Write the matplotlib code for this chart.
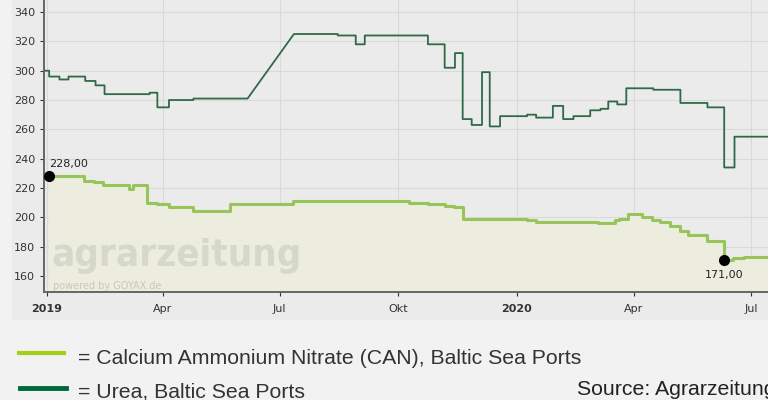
import numpy as np
import matplotlib

matplotlib.use("Agg")
import matplotlib.pyplot as plt
from matplotlib.lines import Line2D
from matplotlib.patches import Rectangle

# weekly price changes (EUR/t)
can_dates = ["2019-01-03", "2019-01-30", "2019-02-07", "2019-02-14", "2019-03-06",
             "2019-03-09", "2019-03-20", "2019-03-28", "2019-04-06", "2019-04-25",
             "2019-05-23", "2019-07-11", "2019-10-09", "2019-10-24", "2019-11-06",
             "2019-11-13", "2019-11-20", "2020-01-09", "2020-01-16", "2020-03-04",
             "2020-03-17", "2020-03-20", "2020-03-27", "2020-04-07", "2020-04-15",
             "2020-04-21", "2020-04-29", "2020-05-07", "2020-05-13", "2020-05-28",
             "2020-06-10", "2020-06-17", "2020-06-25", "2020-07-20"]
can_values = [228, 225, 224, 222, 219, 222, 210, 209, 207, 204,
              209, 211, 210, 209, 208, 207, 199, 198, 197, 196,
              198, 199, 202, 200, 198, 197, 194, 191, 188, 184,
              171, 172, 173, 173]

urea_dates = ["2018-12-31", "2019-01-03", "2019-01-11", "2019-01-18", "2019-01-31",
              "2019-02-08", "2019-02-15", "2019-03-22", "2019-03-28", "2019-04-06",
              "2019-04-25", "2019-06-06", "2019-07-12", "2019-08-15", "2019-08-29",
              "2019-09-05", "2019-10-24", "2019-11-06", "2019-11-14", "2019-11-20",
              "2019-11-27", "2019-12-05", "2019-12-11", "2019-12-19", "2020-01-09",
              "2020-01-16", "2020-01-29", "2020-02-06", "2020-02-14", "2020-02-27",
              "2020-03-06", "2020-03-12", "2020-03-19", "2020-03-26", "2020-04-16",
              "2020-05-07", "2020-05-28", "2020-06-10", "2020-06-18", "2020-07-20"]
urea_values = [300, 296, 294, 296, 293, 290, 284, 285, 275, 280,
               281, 281, 325, 324, 318, 324, 318, 302, 312, 267,
               263, 299, 262, 269, 270, 268, 276, 267, 269, 273,
               274, 279, 277, 288, 287, 278, 275, 234, 255, 255]
urea_gap = ["2019-06-06"]  # no quotes until 2019-07-12: line is joined straight

tick_dates = ["2019-01-01", "2019-04-01", "2019-07-01", "2019-10-01",
              "2020-01-01", "2020-04-01", "2020-07-01"]
tick_labels = ["2019", "Apr", "Jul", "Okt", "2020", "Apr", "Jul"]
yticks = list(range(160, 341, 20))

CAN_C = "#97c55a"
UREA_C = "#2f6a48"
PANEL = "#ebebeb"
OUTER = "#f2f2f2"
FILL = "#eceddf"

can_x = np.array(can_dates, dtype="datetime64[D]")
urea_x = np.array(urea_dates, dtype="datetime64[D]")
gap = np.array(urea_gap, dtype="datetime64[D]")

# build the urea step path; the gap segment is drawn as a straight line
ux, uy = [], []
for i in range(len(urea_x)):
    ux.append(urea_x[i]); uy.append(urea_values[i])
    if i + 1 < len(urea_x) and urea_x[i] not in gap:
        ux.append(urea_x[i + 1]); uy.append(urea_values[i])

fig = plt.figure(figsize=(7.68, 4.0), dpi=100, facecolor=OUTER)
fig.add_artist(Rectangle((12 / 768, 1 - 319 / 400), 1, 319 / 400,
                         transform=fig.transFigure, color=PANEL, zorder=-5))
ax = fig.add_axes([44 / 768, 1 - 292 / 400, 1 - 44 / 768, 292 / 400])
ax.set_facecolor(PANEL)

ax.set_ylim(149.1, 348.2)
ax.set_xlim(np.datetime64("2018-12-30"), np.datetime64("2020-07-14"))

ax.fill_between(can_x, can_values, 149.1, step="post", color=FILL, lw=0, zorder=1)
ax.step(can_x, can_values, where="post", color=CAN_C, lw=2.2, zorder=3)
ax.plot(ux, uy, color=UREA_C, lw=1.3, zorder=3)

ax.plot(can_x[0], can_values[0], "o", color="black", ms=7, zorder=5)
ax.annotate(f"{can_values[0]:.2f}".replace(".", ","), (can_x[0], can_values[0]),
            xytext=(0, 7), textcoords="offset points", fontsize=8, color="#222")
low = int(np.argmin(can_values))
ax.plot(can_x[low], can_values[low], "o", color="black", ms=7, zorder=5)
ax.annotate(f"{can_values[low]:.2f}".replace(".", ","), (can_x[low], can_values[low]),
            xytext=(0, -7), textcoords="offset points", fontsize=8, color="#222",
            ha="center", va="top")

ax.text(0.011, 0.088, "agrarzeitung", transform=ax.transAxes, fontsize=27.5,
        fontweight="bold", fontstretch="condensed", family="DejaVu Sans",
        color="#d6d8ca", zorder=2, va="baseline")
ax.text(0.012, 0.004, "powered by GOYAX.de", transform=ax.transAxes, fontsize=7,
        color="#c6c8bb", zorder=2, va="bottom")

ax.set_yticks(yticks)
ax.set_xticks(np.array(tick_dates, dtype="datetime64[D]"))
ax.set_xticklabels(tick_labels)
for lab in ax.get_xticklabels():
    if lab.get_text().isdigit():
        lab.set_fontweight("bold")
ax.tick_params(axis="both", labelsize=8, colors="#333", length=3, width=0.8)
ax.tick_params(axis="x", pad=6)
ax.grid(True, color="#d9d9d9", lw=0.8, zorder=0)
ax.set_axisbelow(True)
for s in ["top", "right"]:
    ax.spines[s].set_visible(False)
for s in ["left", "bottom"]:
    ax.spines[s].set_color("#666")
    ax.spines[s].set_linewidth(1.4)

# legend below the chart
legend_font = "Liberation Sans"
fig.add_artist(Line2D([19 / 768, 64 / 768], [1 - 353 / 400] * 2, color="#a2cf19",
                      lw=3, transform=fig.transFigure))
fig.add_artist(Line2D([20 / 768, 66 / 768], [1 - 388 / 400] * 2, color="#00693a",
                      lw=3.5, transform=fig.transFigure))
fig.text(78 / 768, 1 - 364 / 400, "= Calcium Ammonium Nitrate (CAN), Baltic Sea Ports",
         fontsize=15.3, family=legend_font, color="#333", va="baseline")
fig.text(78 / 768, 1 - 397 / 400, "= Urea, Baltic Sea Ports",
         fontsize=15.3, family=legend_font, color="#333", va="baseline")
fig.text(577 / 768, 1 - 395 / 400, "Source: Agrarzeitung",
         fontsize=15.3, family=legend_font, color="#222", va="baseline")

fig.savefig("out.png", dpi=100, facecolor=OUTER)
